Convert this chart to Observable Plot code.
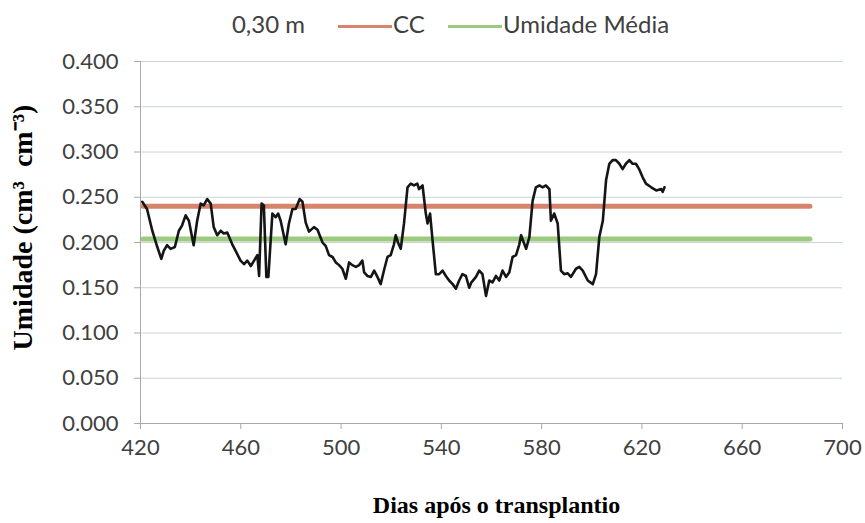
<!DOCTYPE html>
<html>
<head>
<meta charset="utf-8">
<script src="https://cdn.jsdelivr.net/npm/d3@7"></script>
<script src="https://cdn.jsdelivr.net/npm/@observablehq/plot@0.6"></script>
<style>
  body { margin: 0; background: #fff; }
  #chart { position: relative; width: 865px; height: 523px; font-family: Lato, "Open Sans", sans-serif; }
  #legend { position: relative; height: 45px; color: #404040; font-size: 24px; }
  .item { position: absolute; top: 10px; line-height: 28px; white-space: nowrap; }
  .swatch { display: inline-block; width: 54px; height: 3px; vertical-align: middle; margin-right: 1px; }
  svg { display: block; }
</style>
</head>
<body>
<div id="chart"><div id="legend"></div></div>
<script>
// Soil moisture at 0.30 m depth, days after transplanting
const dias = [
  420.7, 422.6, 424.7, 426.7, 428.3, 429.3, 430.6, 432.0, 433.7, 435.3,
  436.6, 438.0, 439.3, 441.2, 442.6, 444.0, 445.2, 446.6, 448.0, 449.2,
  450.6, 452.0, 453.2, 454.6, 456.6, 457.9, 459.9, 461.3, 462.6, 464.0,
  465.3, 466.6, 467.3, 468.3, 469.2, 470.2, 471.0, 472.6, 473.9, 474.9,
  475.9, 477.9, 479.2, 480.6, 481.9, 483.5, 484.6, 485.9, 487.2, 489.2,
  490.6, 492.6, 493.9, 495.2, 496.6, 497.9, 499.2, 500.5, 501.9, 503.2,
  504.5, 505.9, 507.2, 508.5, 509.2, 510.5, 511.9, 513.2, 514.5, 515.8,
  517.1, 518.5, 519.8, 521.1, 521.8, 522.7, 523.8, 525.1, 526.5, 527.8,
  529.1, 530.4, 531.1, 532.5, 533.8, 534.5, 535.5, 536.5, 537.8, 539.1,
  540.5, 541.8, 543.1, 544.5, 545.8, 547.1, 548.4, 549.8, 551.1, 552.0,
  553.8, 555.1, 556.4, 557.8, 559.1, 560.4, 561.8, 563.1, 564.4, 565.8,
  567.1, 568.4, 569.8, 571.1, 571.8, 573.8, 575.1, 576.4, 577.7, 579.1,
  580.4, 581.7, 583.1, 583.7, 585.0, 586.4, 587.7, 589.0, 590.4, 591.7,
  593.7, 595.0, 596.4, 598.4, 600.4, 601.7, 603.0, 604.4, 605.7, 607.0,
  608.3, 609.6, 611.0, 612.3, 613.6, 615.0, 616.3, 617.6, 618.9, 620.3,
  621.6, 623.7, 625.7, 627.7, 628.3, 629.0
];
const umidade = [
  0.245, 0.237, 0.213, 0.195, 0.182, 0.191, 0.197, 0.193, 0.195, 0.213,
  0.219, 0.230, 0.224, 0.197, 0.224, 0.243, 0.241, 0.248, 0.243, 0.217,
  0.208, 0.213, 0.210, 0.211, 0.198, 0.191, 0.180, 0.176, 0.180, 0.174,
  0.180, 0.186, 0.163, 0.243, 0.241, 0.162, 0.162, 0.232, 0.228, 0.232,
  0.224, 0.198, 0.221, 0.237, 0.237, 0.248, 0.245, 0.222, 0.212, 0.217,
  0.214, 0.200, 0.196, 0.186, 0.184, 0.178, 0.175, 0.171, 0.160, 0.178,
  0.175, 0.173, 0.175, 0.180, 0.167, 0.163, 0.162, 0.169, 0.162, 0.154,
  0.169, 0.184, 0.186, 0.198, 0.208, 0.200, 0.193, 0.221, 0.261, 0.265,
  0.263, 0.265, 0.259, 0.263, 0.232, 0.221, 0.232, 0.202, 0.165, 0.165,
  0.169, 0.163, 0.158, 0.154, 0.149, 0.158, 0.165, 0.163, 0.150, 0.156,
  0.162, 0.169, 0.165, 0.141, 0.158, 0.156, 0.163, 0.158, 0.169, 0.162,
  0.167, 0.184, 0.186, 0.198, 0.208, 0.193, 0.206, 0.246, 0.261, 0.263,
  0.261, 0.263, 0.259, 0.224, 0.232, 0.221, 0.169, 0.165, 0.166, 0.162,
  0.171, 0.173, 0.169, 0.158, 0.154, 0.165, 0.206, 0.224, 0.269, 0.287,
  0.291, 0.291, 0.287, 0.281, 0.287, 0.291, 0.287, 0.287, 0.281, 0.272,
  0.265, 0.261, 0.2575, 0.259, 0.256, 0.261
];

// Reference levels: field capacity (CC) and mean moisture
const refDias = [421, 687];
const ccValor = 0.240;
const mediaValor = 0.204;

const xTicks = [420, 460, 500, 540, 580, 620, 660, 700];
const yTicks = [0, 0.05, 0.1, 0.15, 0.2, 0.25, 0.3, 0.35, 0.4];

const profundidade = "0,30 m";
const nomes = ["CC", "Umidade Média"];
const cores = ["#d8836c", "#9ccb7f"];

const xTitulo = "Dias após o transplantio";
const yTitulo = "Umidade (cm³\u00a0 cm⁻³)";

// legend row
const legend = document.getElementById("legend");
const legendItems = [
  {right: 560, html: profundidade},
  {left: 338, html: `<span class="swatch" style="background:${cores[0]}"></span>${nomes[0]}`},
  {left: 448, html: `<span class="swatch" style="background:${cores[1]}"></span>${nomes[1]}`}
];
for (const it of legendItems) {
  const el = document.createElement("div");
  el.className = "item";
  if (it.left != null) el.style.left = it.left + "px";
  else el.style.right = it.right + "px";
  el.innerHTML = it.html;
  legend.appendChild(el);
}

const serie = dias.map((d, i) => ({dia: d, valor: umidade[i]}));
const cc = refDias.map(d => ({dia: d, valor: ccValor}));
const media = refDias.map(d => ({dia: d, valor: mediaValor}));

const serif = "'Liberation Serif', 'Times New Roman', serif";

const plot = Plot.plot({
  width: 865,
  height: 478,
  marginTop: 16,
  marginBottom: 100,
  marginLeft: 140,
  marginRight: 23,
  style: {fontFamily: "Lato, 'Open Sans', sans-serif", background: "#fff"},
  x: {domain: [420, 700]},
  y: {domain: [0, 0.4]},
  marks: [
    Plot.ruleY(yTicks.filter(d => d > 0), {stroke: "#c9d2da", strokeWidth: 1}),
    Plot.line(media, {x: "dia", y: "valor", stroke: cores[1], strokeWidth: 5}),
    Plot.line(cc, {x: "dia", y: "valor", stroke: cores[0], strokeWidth: 5}),
    Plot.line(serie, {x: "dia", y: "valor", stroke: "#151515", strokeWidth: 2.6, strokeLinejoin: "round"}),
    Plot.ruleY([0], {stroke: "#a8a8a8", strokeWidth: 1}),
    Plot.ruleX([420], {stroke: "#a8a8a8", strokeWidth: 1}),
    Plot.axisY({ticks: yTicks, tickFormat: d3.format(".3f"), tickSize: 6, tickPadding: 16,
      fontSize: 22, fill: "#404040", stroke: "#a8a8a8", label: null}),
    Plot.axisX({ticks: xTicks, tickFormat: d => String(d), tickSize: 6, tickPadding: 10,
      fontSize: 22, fill: "#404040", stroke: "#a8a8a8", label: null}),
    Plot.text([xTitulo], {text: d => d, frameAnchor: "bottom", dy: 82, dx: 5, lineAnchor: "middle",
      textAnchor: "middle", fontFamily: serif, fontWeight: "bold", fontSize: 24, fill: "#000"}),
    Plot.text([yTitulo], {text: d => d, frameAnchor: "left", dx: -117, dy: -15, rotate: -90,
      lineAnchor: "middle", textAnchor: "middle", fontFamily: serif, fontWeight: "bold", fontSize: 28, fill: "#000"})
  ]
});
document.getElementById("chart").appendChild(plot);
</script>
</body>
</html>
